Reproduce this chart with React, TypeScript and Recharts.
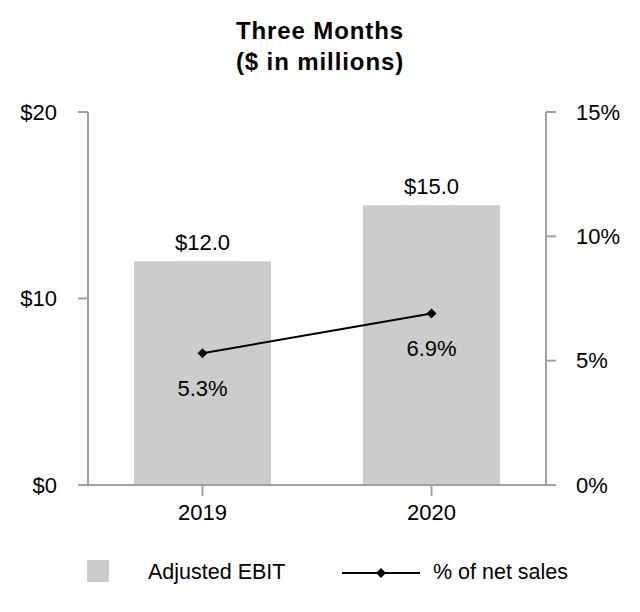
import { Bar, ComposedChart, LabelList, Line, XAxis, YAxis } from 'recharts';

const years = ['2019', '2020'];
const adjustedEbit = [12.0, 15.0];
const pctOfNetSales = [5.3, 6.9];
const leftTicks = [0, 10, 20];
const rightTicks = [0, 5, 10, 15];

const data = years.map((year, i) => ({
  year,
  ebit: adjustedEbit[i],
  pct: pctOfNetSales[i],
}));

const FONT = '"Liberation Sans", Arial, sans-serif';
const AXIS = '#a0a0a0';
const BAR = '#cccccc';

const Diamond = ({ cx, cy }: any) => {
  if (cx == null || cy == null) return null;
  const r = 5;
  return (
    <polygon
      points={`${cx},${cy - r} ${cx + r},${cy} ${cx},${cy + r} ${cx - r},${cy}`}
      fill="#000"
    />
  );
};

const BarValue = ({ x, y, width, value }: any) => (
  <text x={x + width / 2} y={y - 11} textAnchor="middle" fontSize={22} fill="#000">
    ${Number(value).toFixed(1)}
  </text>
);

const PctValue = ({ x, y, value }: any) => (
  <text x={x} y={y + 43} textAnchor="middle" fontSize={22} fill="#000">
    {Number(value).toFixed(1)}%
  </text>
);

const App = () => {
  const tick = { fill: '#000', fontSize: 22 };

  return (
    <div
      style={{
        position: 'absolute',
        top: 0,
        left: 0,
        width: 640,
        height: 612,
        background: '#fff',
        fontFamily: FONT,
      }}
    >
      <svg width={640} height={90} style={{ position: 'absolute', top: 0, left: 0 }}>
        <g fontFamily={FONT} fontWeight="bold" fontSize={24} fill="#000" textAnchor="middle">
          <text x={320} y={39} letterSpacing={0.9}>
            Three Months
          </text>
          <text x={320} y={70} letterSpacing={0.9}>
            ($ in millions)
          </text>
        </g>
      </svg>

      <ComposedChart
        width={640}
        height={612}
        data={data}
        margin={{ top: 112, right: 0, bottom: 87, left: 0 }}
        style={{ fontFamily: FONT }}
      >
        <XAxis
          dataKey="year"
          stroke={AXIS}
          strokeWidth={2}
          tick={tick}
          tickSize={11}
          tickMargin={8}
          height={40}
        />
        <YAxis
          yAxisId="left"
          domain={[0, 20]}
          ticks={leftTicks}
          tickFormatter={(v) => `$${v}`}
          stroke={AXIS}
          strokeWidth={2}
          tick={tick}
          tickSize={10}
          tickMargin={21}
          width={88}
        />
        <YAxis
          yAxisId="right"
          orientation="right"
          domain={[0, 15]}
          ticks={rightTicks}
          tickFormatter={(v) => `${v}%`}
          stroke={AXIS}
          strokeWidth={2}
          tick={tick}
          tickSize={10}
          tickMargin={20}
          width={94}
        />
        <Bar
          yAxisId="left"
          dataKey="ebit"
          fill={BAR}
          barSize={137}
          isAnimationActive={false}
        >
          <LabelList dataKey="ebit" content={<BarValue />} />
        </Bar>
        <Line
          yAxisId="right"
          dataKey="pct"
          stroke="#000"
          strokeWidth={2}
          dot={<Diamond />}
          activeDot={false}
          isAnimationActive={false}
        >
          <LabelList dataKey="pct" content={<PctValue />} />
        </Line>
      </ComposedChart>

      <svg width={640} height={40} style={{ position: 'absolute', top: 556, left: 0 }}>
        <rect x={87} y={4} width={22} height={22} fill={BAR} />
        <line x1={342} x2={420} y1={17} y2={17} stroke="#000" strokeWidth={2} />
        <Diamond cx={381} cy={17} />
        <text x={148} y={23} fontSize={21.5} fill="#000" fontFamily={FONT}>
          Adjusted EBIT
        </text>
        <text x={433} y={23} fontSize={21.5} fill="#000" fontFamily={FONT}>
          % of net sales
        </text>
      </svg>
    </div>
  );
};

export default App;
